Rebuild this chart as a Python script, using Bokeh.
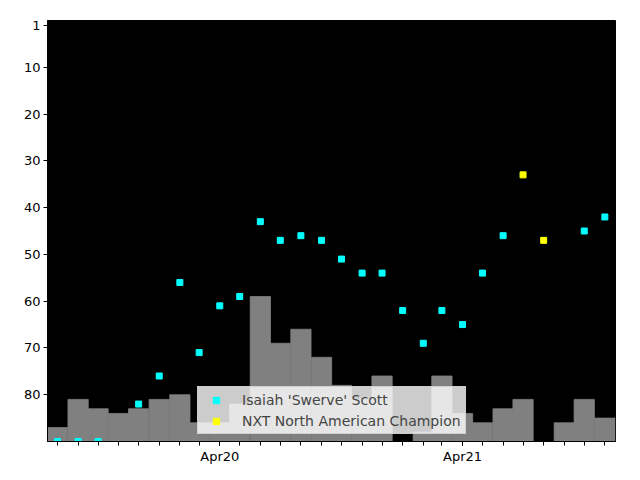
import numpy as np
import pandas as pd
from bokeh.plotting import figure
from bokeh.models import Range1d, FixedTicker, DatetimeTickFormatter, Legend, LegendItem
from bokeh.embed import file_html
from bokeh.resources import INLINE

# --- data ---
months = ["2019-08", "2019-09", "2019-10", "2019-11", "2019-12",
          "2020-01", "2020-02", "2020-03", "2020-04", "2020-05", "2020-06",
          "2020-07", "2020-08", "2020-09", "2020-10", "2020-11", "2020-12",
          "2021-01", "2021-02", "2021-03", "2021-04", "2021-05", "2021-06",
          "2021-07", "2021-08", "2021-09", "2021-10", "2021-11"]
rank = [90, 90, 90, None, 82,
        76, 56, 71, 61, 59, 43,
        47, 46, 47, 51, 54, 54,
        62, 69, 62, 65, 54, 46,
        33, 47, None, 45, 42]
champion = [False] * 23 + [True, True] + [False] * 3
bar_top = [87, 81, 83, 84, 83,
           81, 80, 86, 86, 82, 59,
           69, 66, 72, 78, 81, 76,
           None, 88, 76, 84, 86, 83,
           81, None, 86, 81, 85]
label_months = ["2020-04", "2021-04"]
y_ticks = [1, 10, 20, 30, 40, 50, 60, 70, 80]
series_name = "Isaiah 'Swerve' Scott"
champ_name = "NXT North American Champion"

def ms(s):
    return pd.Timestamp(s).value // 10**6

x = [ms(m + "-01") for m in months]
day = 86400000

# --- figure ---
p = figure(width=640, height=480, output_backend="svg", toolbar_location=None,
           x_range=Range1d(ms("2019-07-17"), ms("2021-11-17")),
           y_range=Range1d(90, 0),
           min_border_left=47, min_border_right=25, min_border_top=20, min_border_bottom=39)
p.background_fill_color = "black"
p.border_fill_color = "white"
p.outline_line_color = "black"
p.xgrid.visible = False
p.ygrid.visible = False

# bars
bx = [xi for xi, b in zip(x, bar_top) if b is not None]
bt = [b for b in bar_top if b is not None]
p.vbar(x=bx, top=bt, bottom=90, width=30.5 * day, fill_color="#808080",
       line_color="#808080", line_width=0.8)

# points
sx = [xi for xi, r, c in zip(x, rank, champion) if r is not None and not c]
sy = [r for r, c in zip(rank, champion) if r is not None and not c]
cx = [xi for xi, r, c in zip(x, rank, champion) if r is not None and c]
cy = [r for r, c in zip(rank, champion) if r is not None and c]
r1 = p.scatter(sx, sy, marker="square", size=6, fill_color="#00ffff", line_color="#00ffff")
r2 = p.scatter(cx, cy, marker="square", size=6, fill_color="#ffff00", line_color="#ffff00")

# axes
p.xaxis.ticker = FixedTicker(ticks=[ms(m + "-01") for m in label_months], minor_ticks=x)
fmt = "%b%y"
p.xaxis.formatter = DatetimeTickFormatter(milliseconds=fmt, seconds=fmt, minsec=fmt, minutes=fmt,
                                          hourmin=fmt, hours=fmt, days=fmt, months=fmt, years=fmt)
p.yaxis.ticker = FixedTicker(ticks=y_ticks)
for ax in (p.xaxis[0], p.yaxis[0]):
    ax.major_tick_in = 0
    ax.major_tick_out = 4
    ax.minor_tick_in = 0
    ax.minor_tick_out = 4
    ax.major_label_text_font = "DejaVu Sans"
    ax.major_label_text_font_size = "13px"
    ax.major_label_text_color = "black"
    ax.axis_line_color = "black"
    ax.major_label_standoff = 3
p.yaxis.minor_tick_out = 0

legend = Legend(items=[LegendItem(label=series_name, renderers=[r1]),
                       LegendItem(label=champ_name, renderers=[r2])],
                location=(150, 7))
legend.label_text_font = "DejaVu Sans"
legend.label_text_font_size = "14px"
legend.label_height = 17
legend.glyph_height = 16
legend.glyph_width = 28
legend.label_standoff = 12
legend.spacing = 4
legend.padding = 4
legend.margin = 0
legend.background_fill_color = "white"
legend.background_fill_alpha = 0.8
legend.border_line_color = "#cccccc"
legend.border_line_alpha = 0.8
p.add_layout(legend, "center")

open("out.html", "w").write(file_html(p, INLINE))
